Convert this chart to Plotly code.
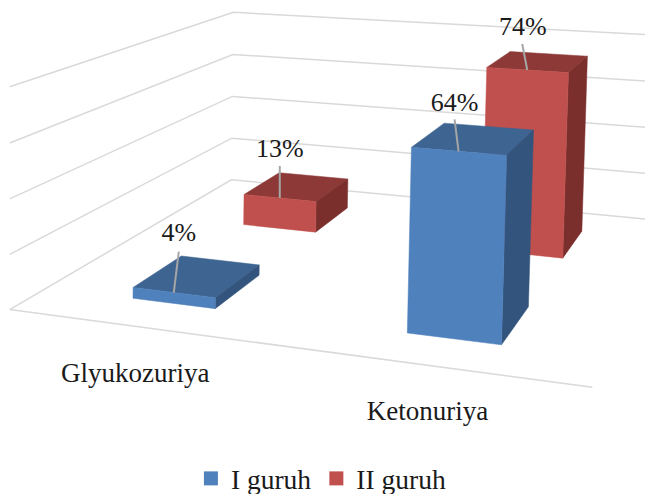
import numpy as np
import plotly.graph_objects as go

# ---- data ----
categories = ["Glyukozuriya", "Ketonuriya"]
series_names = ["I guruh", "II guruh"]
group_1 = [4, 64]
group_2 = [13, 74]
z_ticks = [0, 20, 40, 60, 80]

# ---- styles ----
front_col = ["#4f81bd", "#c0504d"]
top_col = ["#3e6491", "#8c3937"]
side_col = ["#33547c", "#7a2f2d"]
grid_col = "#d9d9d9"
leader_col = "#a6a6a6"
text_col = "#1a1a1a"
font = "Liberation Serif"
label_size = 26
cat_size = 27
legend_size = 27.5

# ---- bar footprint on the floor (category / series units) ----
bar_x = [(0.3418, 0.6569), (1.3461, 1.6619)]
bar_y = [(0.2666, 0.6806), (1.3072, 1.7158)]

# ---- view of the 3D box ----
AZ, EL, ROLL, DIST = 0.4394, 0.1002, 0.0008, 3.1717
CENTER = np.array([-0.4641, -0.6147, 0.3966])
ASPECT_Y, ASPECT_Z = 1.2138, 0.4005
FOCAL, PX, PY = 1830.13, 26.364, -23.235
d = np.array([np.sin(AZ) * np.cos(EL), -np.cos(AZ) * np.cos(EL), np.sin(EL)])
EYE = CENTER + DIST * d
f = -d
r = np.cross(f, [0, 0, 1.0]); r /= np.linalg.norm(r)
u = np.cross(r, f)
r, u = np.cos(ROLL) * r + np.sin(ROLL) * u, -np.sin(ROLL) * r + np.cos(ROLL) * u


def proj(x, y, z):
    p = np.array([x / 2 - 0.5, (y / 2 - 0.5) * ASPECT_Y, (z / 80 - 0.5) * ASPECT_Z]) - EYE
    w = p @ f
    return PX + FOCAL * (p @ r) / w, PY - FOCAL * (p @ u) / w


def poly(corners):
    pts = [proj(*c) for c in corners]
    pts.append(pts[0])
    return [p[0] for p in pts], [p[1] for p in pts]


fig = go.Figure()


def line(corners, color, width=1.5):
    xs, ys = zip(*[proj(*c) for c in corners])
    fig.add_trace(go.Scatter(x=xs, y=ys, mode="lines", line=dict(color=color, width=width),
                             showlegend=False, hoverinfo="skip"))


# walls and floor edge
for z in z_ticks:
    line([(0, 0, z), (0, 2, z), (2, 2, z)], grid_col)
line([(0, 0, 0), (2, 0, 0)], grid_col)


def face(corners, color):
    xs, ys = poly(corners)
    fig.add_trace(go.Scatter(x=xs, y=ys, mode="lines", fill="toself", fillcolor=color,
                             line=dict(color=color, width=0.5), showlegend=False, hoverinfo="skip"))


values = [group_1, group_2]
# data labels: (offset of label, offset of leader end) from the bar's top front edge
label_off = {(0, 0): (5, -58), (1, 0): (0, -47), (0, 1): (-4, -47), (1, 1): (-4.5, -41.5)}
lead_off = {(0, 0): (5, -41), (1, 0): (0, -32), (0, 1): (-4, -32), (1, 1): (-5, -26)}

for c in range(len(categories)):
    for s in [1, 0]:
        h = values[s][c]
        x0, x1 = bar_x[c]
        y0, y1 = bar_y[s]
        face([(x0, y0, h), (x1, y0, h), (x1, y1, h), (x0, y1, h)], top_col[s])
        face([(x1, y0, 0), (x1, y1, 0), (x1, y1, h), (x1, y0, h)], side_col[s])
        face([(x0, y0, 0), (x1, y0, 0), (x1, y0, h), (x0, y0, h)], front_col[s])
        ax, ay = proj((x0 + x1) / 2, y0, h)
        lx, ly = lead_off[(s, c)]
        fig.add_trace(go.Scatter(x=[ax, ax + lx], y=[ay, ay + ly], mode="lines",
                                 line=dict(color=leader_col, width=2), showlegend=False, hoverinfo="skip"))
        tx, ty = label_off[(s, c)]
        fig.add_trace(go.Scatter(x=[ax + tx], y=[ay + ty], mode="text", text=[f"{h}%"],
                                 textposition="middle center",
                                 textfont=dict(family=font, size=label_size, color=text_col),
                                 showlegend=False, hoverinfo="skip"))

# category labels under the front floor edge
cat_off = [(-5.5, 48), (-3.5, 48)]
for c, name in enumerate(categories):
    ax, ay = proj(c + 0.5, 0, 0)
    fig.add_trace(go.Scatter(x=[ax + cat_off[c][0]], y=[ay + cat_off[c][1]], mode="text", text=[name],
                             textposition="middle center",
                             textfont=dict(family=font, size=cat_size, color=text_col),
                             showlegend=False, hoverinfo="skip"))

# legend entries
for s, name in enumerate(series_names):
    fig.add_trace(go.Scatter(x=[None], y=[None], mode="markers", name=name,
                             marker=dict(symbol="square", size=14, color=front_col[s])))

H = 514  # a little taller than the window so the legend may sit close to the lower edge
fig.update_layout(
    width=645, height=H, margin=dict(l=0, r=0, t=0, b=0),
    paper_bgcolor="white", plot_bgcolor="white",
    xaxis=dict(range=[0, 645], visible=False),
    yaxis=dict(range=[H, 0], visible=False),
    legend=dict(orientation="h", x=0.296, y=1 - 478.5 / H, xanchor="left", yanchor="middle",
                font=dict(family=font, size=legend_size, color=text_col), bgcolor="rgba(0,0,0,0)",
                itemwidth=30, tracegroupgap=0),
)
fig.write_html("out.html", config={"displayModeBar": False},
               post_script="document.body.style.margin='0';document.documentElement.style.overflow='hidden';")
